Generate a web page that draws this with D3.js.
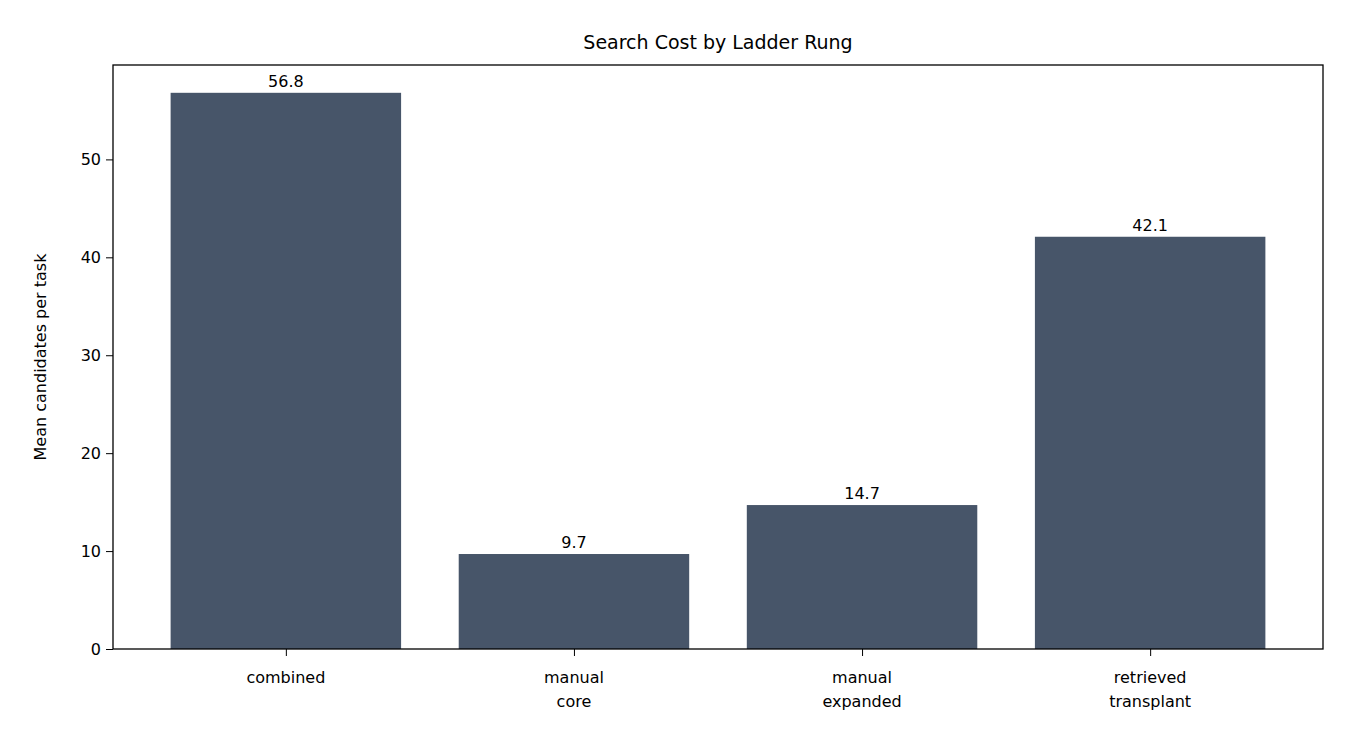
<!DOCTYPE html><html><head><meta charset="utf-8"><script src="https://d3js.org/d3.v7.min.js"></script>
<style>body{margin:0;background:#fff}text{font-family:"DejaVu Sans";fill:#000}</style></head><body>
<svg id="c" width="1350" height="756"></svg>
<script>
const categories=[["combined"],["manual","core"],["manual","expanded"],["retrieved","transplant"]];
const values=[56.8,9.7,14.7,42.1];
const yTicks=[0,10,20,30,40,50];
const svg=d3.select("#c");
const L=113,R=1323,T=65,B=649;
const x=d3.scaleLinear().domain([-0.6,3.6]).range([L,R]);
const y=d3.scaleLinear().domain([0,59.64]).range([B,T]);
const bw=x(0.8)-x(0);
svg.selectAll("rect.b").data(values).join("rect").attr("x",(d,i)=>x(i)-bw/2).attr("width",bw)
 .attr("y",d=>y(d)).attr("height",d=>B-y(d)).attr("fill","#475569");
svg.selectAll("text.v").data(values).join("text").attr("x",(d,i)=>x(i)).attr("y",d=>y(d)-6)
 .attr("text-anchor","middle").attr("font-size",16).text(d=>d.toFixed(1));
const ya=svg.append("g").attr("transform",`translate(${L},0)`).call(d3.axisLeft(y).tickValues(yTicks).tickSize(7).tickPadding(5));
ya.selectAll("text").attr("font-size",16).attr("font-family","DejaVu Sans");
ya.select(".domain").remove();
const xa=svg.append("g").attr("transform",`translate(0,${B})`).call(d3.axisBottom(x).tickValues([0,1,2,3]).tickSize(7).tickFormat(""));
xa.select(".domain").remove();
categories.forEach((c,i)=>{c.forEach((s,j)=>{svg.append("text").attr("x",x(i)).attr("y",B+34+j*24)
 .attr("text-anchor","middle").attr("font-size",16).text(s);});});
svg.append("rect").attr("x",L).attr("y",T).attr("width",R-L).attr("height",B-T).attr("fill","none").attr("stroke","#000").attr("stroke-width",1.3);
svg.append("text").attr("x",(L+R)/2).attr("y",49).attr("text-anchor","middle").attr("font-size",19).text("Search Cost by Ladder Rung");
svg.append("text").attr("transform",`translate(46,${(T+B)/2}) rotate(-90)`).attr("text-anchor","middle").attr("font-size",16).text("Mean candidates per task");
</script></body></html>
